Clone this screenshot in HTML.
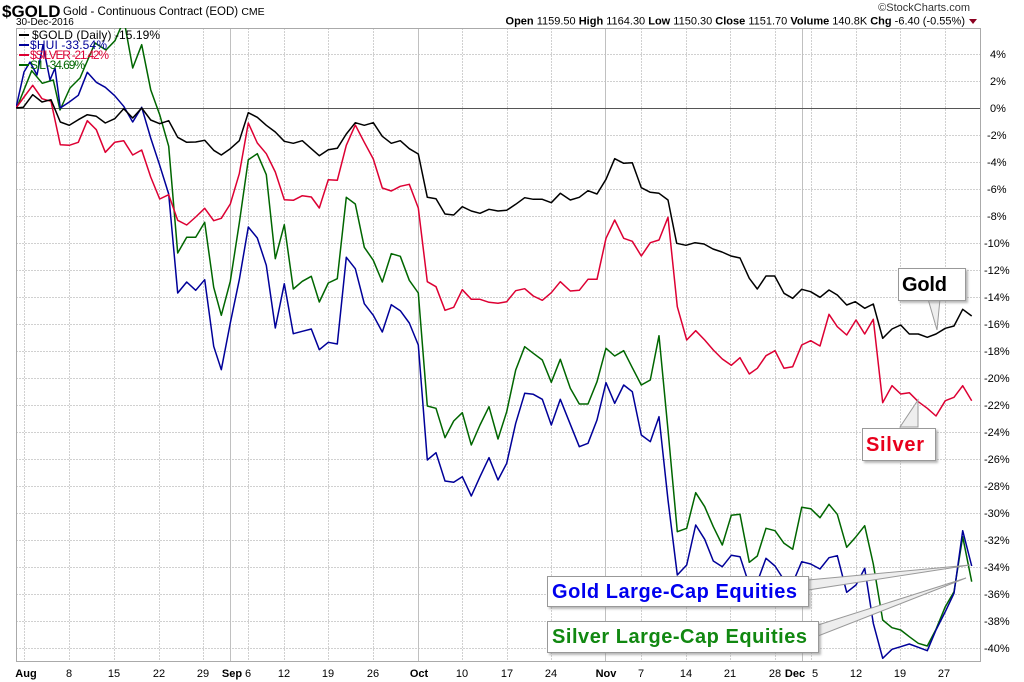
<!DOCTYPE html>
<html><head><meta charset="utf-8"><style>
body{margin:0;background:#fff;}
svg{display:block;font-family:"Liberation Sans",sans-serif;}
</style></head><body>
<svg width="1024" height="682" viewBox="0 0 1024 682">
<defs><clipPath id="pc"><rect x="16" y="28" width="965" height="634"/></clipPath>
<filter id="sh"><feDropShadow dx="2" dy="2" stdDeviation="1" flood-color="#888" flood-opacity="0.6"/></filter></defs>
<rect x="0" y="0" width="1024" height="682" fill="#fff"/>
<text x="2" y="17" font-size="17" font-weight="bold">$GOLD</text>
<text x="63" y="15" font-size="11.5">Gold - Continuous Contract (EOD) <tspan font-size="10.5">CME</tspan></text>
<text x="16" y="25" font-size="10">30-Dec-2016</text>
<text x="970" y="11" font-size="11" text-anchor="end" fill="#333">©StockCharts.com</text>
<text x="965" y="24.5" font-size="11" text-anchor="end"><tspan font-weight="bold">Open</tspan> 1159.50 <tspan font-weight="bold">High</tspan> 1164.30 <tspan font-weight="bold">Low</tspan> 1150.30 <tspan font-weight="bold">Close</tspan> 1151.70 <tspan font-weight="bold">Volume</tspan> 140.8K <tspan font-weight="bold">Chg</tspan> -6.40 (-0.55%)</text>
<polygon points="969,19 977,19 973,24" fill="#8b0020"/>
<g stroke="#d0d0d0" stroke-dasharray="2,1" stroke-width="1">
<line x1="16" x2="981" y1="54.5" y2="54.5"/><line x1="16" x2="981" y1="81.5" y2="81.5"/>
<line x1="16" x2="981" y1="135.5" y2="135.5"/><line x1="16" x2="981" y1="162.5" y2="162.5"/><line x1="16" x2="981" y1="189.5" y2="189.5"/><line x1="16" x2="981" y1="216.5" y2="216.5"/><line x1="16" x2="981" y1="243.5" y2="243.5"/><line x1="16" x2="981" y1="270.5" y2="270.5"/><line x1="16" x2="981" y1="297.5" y2="297.5"/><line x1="16" x2="981" y1="324.5" y2="324.5"/><line x1="16" x2="981" y1="351.5" y2="351.5"/><line x1="16" x2="981" y1="378.5" y2="378.5"/><line x1="16" x2="981" y1="405.5" y2="405.5"/><line x1="16" x2="981" y1="432.5" y2="432.5"/><line x1="16" x2="981" y1="459.5" y2="459.5"/><line x1="16" x2="981" y1="486.5" y2="486.5"/><line x1="16" x2="981" y1="513.5" y2="513.5"/><line x1="16" x2="981" y1="540.5" y2="540.5"/><line x1="16" x2="981" y1="567.5" y2="567.5"/><line x1="16" x2="981" y1="594.5" y2="594.5"/><line x1="16" x2="981" y1="621.5" y2="621.5"/><line x1="16" x2="981" y1="648.5" y2="648.5"/>
<line y1="28" y2="662" x1="24.5" x2="24.5"/><line y1="28" y2="662" x1="69.5" x2="69.5"/><line y1="28" y2="662" x1="114.5" x2="114.5"/><line y1="28" y2="662" x1="159.5" x2="159.5"/><line y1="28" y2="662" x1="203.5" x2="203.5"/><line y1="28" y2="662" x1="248.5" x2="248.5"/><line y1="28" y2="662" x1="284.5" x2="284.5"/><line y1="28" y2="662" x1="328.5" x2="328.5"/><line y1="28" y2="662" x1="373.5" x2="373.5"/><line y1="28" y2="662" x1="462.5" x2="462.5"/><line y1="28" y2="662" x1="507.5" x2="507.5"/><line y1="28" y2="662" x1="551.5" x2="551.5"/><line y1="28" y2="662" x1="641.5" x2="641.5"/><line y1="28" y2="662" x1="686.5" x2="686.5"/><line y1="28" y2="662" x1="730.5" x2="730.5"/><line y1="28" y2="662" x1="775.5" x2="775.5"/><line y1="28" y2="662" x1="811.5" x2="811.5"/><line y1="28" y2="662" x1="856.5" x2="856.5"/><line y1="28" y2="662" x1="900.5" x2="900.5"/><line y1="28" y2="662" x1="945.5" x2="945.5"/>
</g>
<g stroke="#c0c0c0" stroke-width="1">
<line y1="28" y2="662" x1="230.5" x2="230.5"/><line y1="28" y2="662" x1="418.5" x2="418.5"/><line y1="28" y2="662" x1="605.5" x2="605.5"/><line y1="28" y2="662" x1="802.5" x2="802.5"/>
</g>
<line x1="16" x2="981" y1="108.5" y2="108.5" stroke="#555" stroke-width="1"/>
<rect x="16.5" y="28.5" width="964" height="633" fill="none" stroke="#aaa"/>
<g font-size="11" fill="#000">
<text x="990" y="58">4%</text><text x="990" y="85">2%</text><text x="990" y="112">0%</text>
<text x="987" y="139">-2%</text><text x="987" y="166">-4%</text><text x="987" y="193">-6%</text><text x="987" y="220">-8%</text>
<text x="984" y="247">-10%</text><text x="984" y="274">-12%</text><text x="984" y="301">-14%</text><text x="984" y="328">-16%</text><text x="984" y="355">-18%</text><text x="984" y="382">-20%</text><text x="984" y="409">-22%</text><text x="984" y="436">-24%</text><text x="984" y="463">-26%</text><text x="984" y="490">-28%</text><text x="984" y="517">-30%</text><text x="984" y="544">-32%</text><text x="984" y="571">-34%</text><text x="984" y="598">-36%</text><text x="984" y="625">-38%</text><text x="984" y="652">-40%</text>
</g>
<g font-size="11" text-anchor="middle">
<text x="26" y="677" font-weight="bold">Aug</text><text x="69" y="677">8</text><text x="114" y="677">15</text><text x="159" y="677">22</text><text x="203" y="677">29</text>
<text x="232" y="677" font-weight="bold">Sep</text><text x="248" y="677">6</text><text x="284" y="677">12</text><text x="328" y="677">19</text><text x="373" y="677">26</text>
<text x="419" y="677" font-weight="bold">Oct</text><text x="462" y="677">10</text><text x="507" y="677">17</text><text x="551" y="677">24</text>
<text x="606" y="677" font-weight="bold">Nov</text><text x="641" y="677">7</text><text x="686" y="677">14</text><text x="730" y="677">21</text><text x="775" y="677">28</text>
<text x="795" y="677" font-weight="bold">Dec</text><text x="815" y="677">5</text><text x="856" y="677">12</text><text x="900" y="677">19</text><text x="944" y="677">27</text>
</g>
<g clip-path="url(#pc)" fill="none" stroke-width="1.5" stroke-linejoin="round">
<polyline stroke="#006600" points="16.7,108 31.7,70.7 42.3,83.3 53.3,80 60,110 70,88 80,78 95,43 106,50 115,40.7 124,20 132.7,68 141.7,44.7 150.7,89.7 159.7,114.7 168.7,146.3 177.7,253 186.7,237.3 195.7,237.3 204.7,222.3 213.7,287.3 221.3,315.3 230.3,281.3 239.3,223 248.3,159.7 257.3,153.7 266.3,174.7 275.3,258.7 284.3,224.7 293.3,289 302.3,281.3 311.3,276.3 319.3,302 328.3,283 337.3,278.7 346.3,197.3 355.3,204 364.3,247.3 373.3,260.3 382.3,282 391.3,253.7 400.3,256.3 409.3,280.3 418.3,293 427.3,406 436,408.3 445,437.7 453.7,421 462.3,412.7 471.3,445 480,425 489,406.7 498,439 506.7,411.7 515.7,370 524.7,346.7 533.3,353.3 542.3,360 551.3,382.3 560.3,359.3 570.3,388.3 579.3,404 588,404 597,381.7 606,348.3 614.7,356 623.7,350.7 632.3,367.7 641.3,385 650.3,380 659,335.7 668,430 677.3,531.7 686.7,528.3 695.7,492.7 704.7,506.7 713.3,526.7 722.3,545 731.3,515.3 740,514.3 749.3,562.3 757.3,556 766,528.3 775,530.7 784,543.3 792.7,549.3 801.7,507.3 810.7,508.7 820,517.7 829,504.3 837.3,514.3 846.7,547.3 856,536.7 864.7,525.7 873.3,564 882.7,620 892,627.7 900.7,630 909.3,636.7 918.3,643.3 927.3,646 936,629.3 945.3,606.7 954,591.7 962.7,536.7 971.7,581.7"/>
<polyline stroke="#000099" points="16,108 24,72 30,62 37,75 43,45 50,80 55,68 60.3,108 69.3,102 78.3,95.3 87.3,72.3 96.3,82.3 105.3,87.3 114.7,95.7 123.7,106.3 132.7,122 141.7,107.3 150.7,138 159.7,165.3 168.7,194 177.7,293 186.7,282 195.7,290.3 204.7,279.7 213.7,346.3 221.3,369.7 230.3,323 239.3,279.7 248.3,227 257.3,238 266.3,265.3 275.3,328 284.3,283.7 293.3,333.7 302.3,331.3 311.3,329 319.3,349.7 328.3,342.3 337.3,344 346.3,257.3 355.3,268.7 364.3,303.7 373.3,315.3 382.3,332 391.3,304.7 400.3,310.7 409.3,323 418.3,345 427.3,460 436,452.7 445,481 453.7,482.3 462.3,476.7 471.3,496 480,476.7 489,457.7 498,480 506.7,463.3 515.7,423.3 524.7,393.3 533.3,394.3 542.3,399.3 551.3,425 560.3,399.3 570.3,424.3 579.3,446.7 588,443.3 597,420 606,382.7 614.7,403.3 623.7,385 632.3,391.7 641.3,435 650.3,441.7 659,416.7 668,500 677.3,575 686.7,565 695.7,525 704.7,539.3 713.3,561 722.3,566.7 731.3,555.3 740,556.7 749.3,585 757.3,582 766,558.3 775,566 784,580 792.7,583 801.7,561.7 810.7,564 820,569 829,557.7 837.3,555.7 846.7,592.3 856,585 864.7,568.3 873.3,623.3 882.7,658.3 892,649.3 900.7,646.7 909.3,644 918.3,647.3 927.3,650.7 936,630 945.3,611.7 954,593.3 962.7,530.7 971.7,566"/>
<polyline stroke="#dd0033" points="16,108 23.3,98 32.7,85.3 42,98.7 51,101.3 60.3,144.7 69.3,145.3 78.3,142.3 87.3,120.7 96.3,129.7 105.3,152.3 114.7,142.3 123.7,140.7 132.7,155 141.7,150 150.7,177 159.7,199 168.7,194.7 177.7,220.3 186.7,225 195.7,217 204.7,208.3 213.7,220.7 221.3,218.3 230.3,204 239.3,173.7 248.3,123 257.3,143 266.3,153.7 275.3,172 284.3,199.7 293.3,200.3 302.3,195.7 311.3,197 319.3,208 328.3,179.7 337.3,180.3 346.3,145.3 355.3,125 364.3,142.3 373.3,159 382.3,188 391.3,191 400.3,186.3 409.3,184.3 418.3,208 427.3,281.7 436,286.7 445,310.3 453.7,307.3 462.3,289.7 471.3,299.3 480,299.3 489,302.3 498,303.3 506.7,301.7 515.7,290.7 524.7,288.7 533.3,296 542.3,300.3 551.3,292.7 560.3,281.7 570.3,291 579.3,290.3 588,279.3 597,279.3 606,238.3 614.7,220 623.7,238.3 632.3,241.3 641.3,256 650.3,242.7 659,240 668,217.3 677.3,306.7 686.7,340 695.7,330.7 704.7,340 713.3,350 722.3,359 731.3,365.3 740,357.7 749.3,374 757.3,368.3 766,355.7 775,350.7 784,368.3 792.7,366.7 801.7,345 810.7,340.7 820,346 829,314.3 837.3,326.7 846.7,335 856,320 864.7,334 873.3,319.3 882.7,402.7 892,385.7 900.7,394 909.3,392.7 918.3,401.7 927.3,408.3 936,416 945.3,400.7 954,397.3 962.7,385.7 971.7,400.7"/>
<polyline stroke="#000" points="16,108 23.3,107.3 32.7,94.7 42,102 51,99.7 60.3,122 69.3,125.3 78.3,119.7 87.3,114.7 96.3,116.3 105.3,123 114.7,118.7 123.7,108.7 132.7,118 141.7,108 150.7,120 159.7,123.7 168.7,120.7 177.7,137.3 186.7,142.3 195.7,142 204.7,140.3 213.7,150.3 221.3,155 230.3,148.7 239.3,140.7 248.3,112.7 257.3,117.3 266.3,125.3 275.3,132 284.3,141.3 293.3,143.3 302.3,140.7 311.3,148.7 319.3,155.7 328.3,149.7 337.3,148.3 346.3,134 355.3,122.7 364.3,125.3 373.3,122.7 382.3,136.3 391.3,143.3 400.3,140.7 409.3,148.7 418.3,154 427.3,197.3 436,198.7 445,214 453.7,215 462.3,206.7 471.3,211 480,213.3 489,209.3 498,211 506.7,210.3 515.7,204.3 524.7,197.7 533.3,199.3 542.3,199.3 551.3,202.7 560.3,193.3 570.3,200 579.3,197.3 588,190.7 597,194 606,179.3 614.7,158.7 623.7,163.3 632.3,162.7 641.3,187.7 650.3,192.3 659,193.3 668,200 676.7,243.3 686,245.3 695,242.7 704,244 713,249 722,252 731,256 740,258 749.3,278.3 757.3,289 766,276 774.7,276 784,293.3 792.7,298.3 801.7,289.3 810.7,291.7 820,297.3 829,290 837.3,295 846.7,305 855.3,301.7 864.7,308.3 873.3,304 882.7,338.3 892,329 900.7,325 909.3,334 918.3,334 927.3,337.3 936,334 945.3,328.3 954,326 962.7,309.3 971.7,316"/>
</g>
<g font-size="12">
<line x1="19" x2="29" y1="35" y2="35" stroke="#000" stroke-width="2"/><text x="32" y="39" fill="#000" textLength="128">$GOLD (Daily) -15.19%</text>
<line x1="19" x2="29" y1="45" y2="45" stroke="#000099" stroke-width="2"/><text x="30" y="49" fill="#000099" textLength="77">$HUI -33.54%</text>
<line x1="19" x2="29" y1="55" y2="55" stroke="#dd0033" stroke-width="2"/><text x="30" y="59" fill="#dd0033" textLength="79">$SILVER -21.42%</text>
<line x1="19" x2="29" y1="65" y2="65" stroke="#006600" stroke-width="2"/><text x="30" y="69" fill="#006600" textLength="55">SIL -34.69%</text>
</g>
<g stroke="#999" stroke-width="1" fill="#fff">
<polygon points="928,299 937,330 940,299" fill="#eee"/>
<polygon points="900,427 918,400 918,427" fill="#eee"/>
<polygon points="808,580 970,565 808,590" fill="#eee"/>
<polygon points="818,625 966,578 818,636" fill="#eee"/>
</g>
<g filter="url(#sh)">
<rect x="898.5" y="268.5" width="67" height="32" fill="#fff" stroke="#999"/>
<rect x="862.5" y="428.5" width="73" height="32" fill="#fff" stroke="#999"/>
<rect x="547.5" y="576.5" width="261" height="30" fill="#fff" stroke="#999"/>
<rect x="547.5" y="621.5" width="271" height="31" fill="#fff" stroke="#999"/>
</g>
<g font-weight="bold" font-size="20">
<text x="902" y="291" fill="#000" textLength="45">Gold</text>
<text x="866" y="451" fill="#e8001c" textLength="58">Silver</text>
<text x="552" y="598" fill="#0000ee" textLength="245">Gold Large-Cap Equities</text>
<text x="552" y="643" fill="#118811" textLength="255">Silver Large-Cap Equities</text>
</g>
</svg>
</body></html>
